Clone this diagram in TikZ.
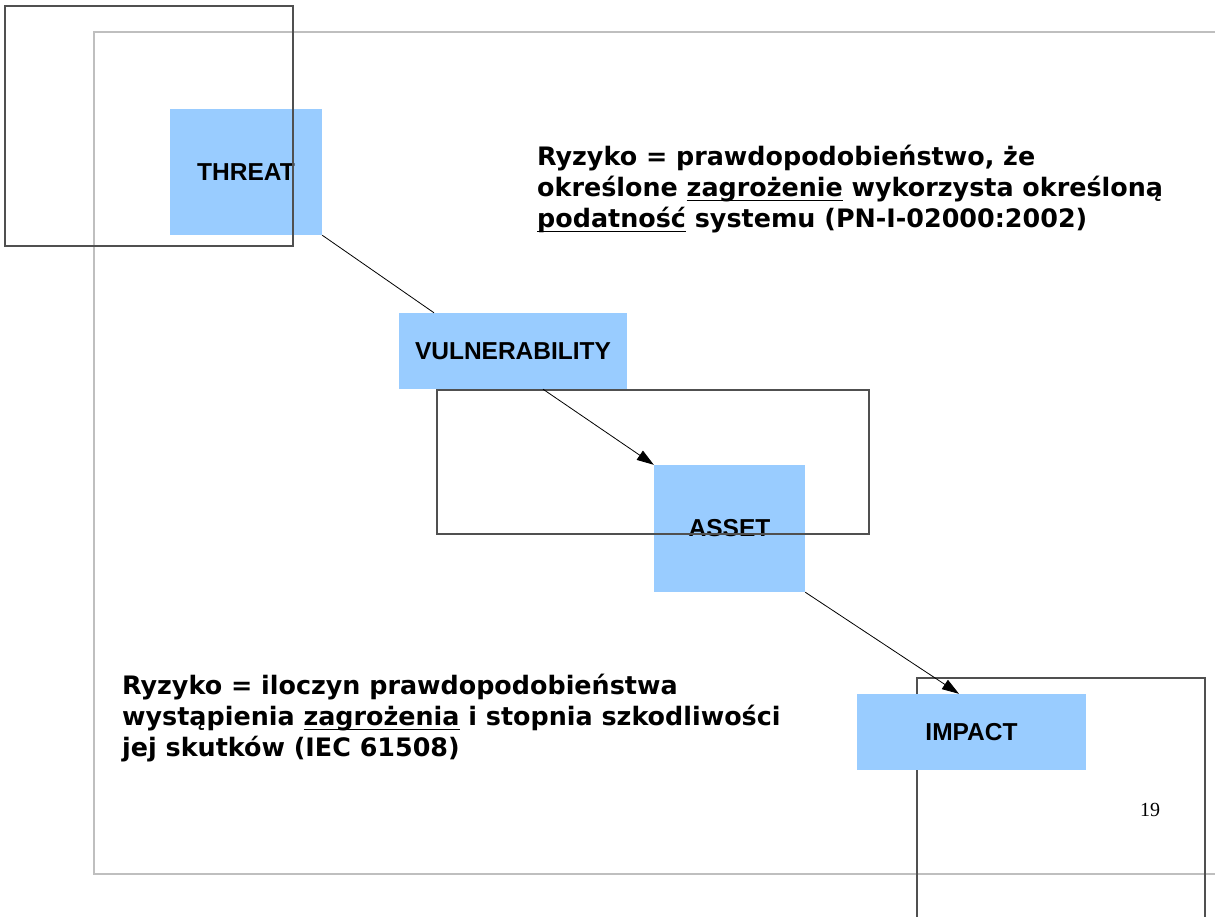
\documentclass[tikz,border=0pt]{standalone}
\usepackage{fontspec}
\usetikzlibrary{arrows.meta}
\newfontfamily\labelfont{Liberation Sans}
\newfontfamily\notefont{DejaVu Sans}
\newfontfamily\numfont{Liberation Serif}
\definecolor{boxblue}{HTML}{99CCFF}
\definecolor{framegray}{HTML}{BFBFBF}
\definecolor{framedark}{HTML}{505050}
% underline drawn through the descenders
\newcommand\ulword[1]{\setbox0\hbox{#1}\rlap{\rule[-0.21em]{\wd0}{0.07em}}\box0\relax}
\tikzset{
  stage/.style={fill=boxblue, inner sep=0pt, font=\labelfont\bfseries\fontsize{24.5}{29}\selectfont},
  frame/.style={draw=framedark, line width=1.1pt},
  outer/.style={draw=framegray, line width=1.3pt},
  link/.style={draw=black, line width=0.8pt},
  note/.style={inner sep=0pt, align=left, anchor=north west, font=\notefont\bfseries\fontsize{25.4}{31}\selectfont},
  arrowhead/.style={-{Triangle[length=17pt,width=11pt]}}
}
\begin{document}
\begin{tikzpicture}[x=1pt, y=-1pt]
\useasboundingbox (0,0) rectangle (1215,917);
\fill[white] (0,0) rectangle (1215,917);

% slide border
\draw[outer] (1215,32) -- (94,32) -- (94,874) -- (1215,874);

% chain of stages
\node[stage, minimum width=152pt, minimum height=126pt] (threat) at (246,172) {THREAT};
\node[stage, minimum width=228pt, minimum height=76pt] (vuln) at (513,351) {VULNERABILITY};
\node[stage, minimum width=151pt, minimum height=127pt] (asset) at (729.5,528.5) {ASSET};

% frame behind the impact stage
\draw[frame] (917,917) -- (917,678) -- (1205,678) -- (1205,917);
\node[stage, minimum width=229pt, minimum height=76pt] (impact) at (971.5,732) {IMPACT};

% frames over the stages
\draw[frame] (5,6) rectangle (293,246);
\draw[frame] (437,390) rectangle (869,534);

% connectors
\draw[link] (threat.south east) -- ([xshift=-79pt]vuln.north);
\draw[link, arrowhead] ([xshift=30pt]vuln.south) -- (asset.north west);
\draw[link, arrowhead] (asset.south east) -- ([xshift=-12.5pt]impact.north);

% definitions
\node[note] (def1) at (537,144.5) {Ryzyko = prawdopodobieństwo, że\\
określone \ulword{zagrożenie} wykorzysta określoną\\
\ulword{podatność} systemu (PN-I-02000:2002)};
\node[note] (def2) at (122,673.5) {Ryzyko = iloczyn prawdopodobieństwa\\
wystąpienia \ulword{zagrożenia} i stopnia szkodliwości\\
jej skutków (IEC 61508)};

% page number
\node[font=\numfont\fontsize{20}{24}\selectfont, inner sep=0pt] (page) at (1150,810) {19};
\end{tikzpicture}
\end{document}
